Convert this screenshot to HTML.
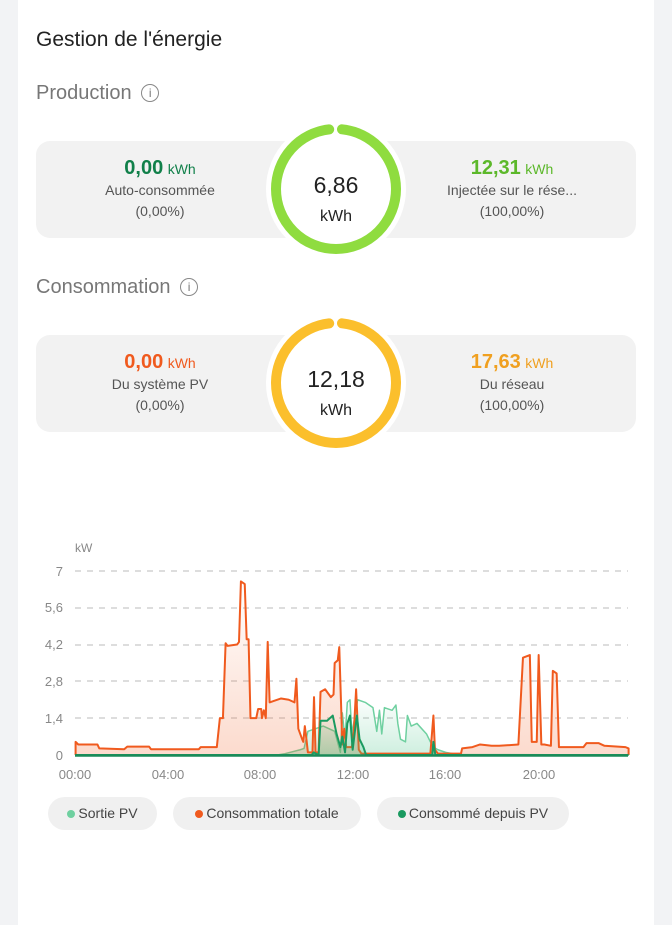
<!DOCTYPE html>
<html><head><meta charset="utf-8"><style>
body{margin:0;width:672px;height:925px;background:#f2f3f5;font-family:"Liberation Sans",sans-serif;position:relative;overflow:hidden}
.card{position:absolute;left:18px;top:0;width:636px;height:925px;background:#fff}
.a{position:absolute;white-space:nowrap}
.box{position:absolute;left:36px;width:600px;height:97px;background:#f2f2f2;border-radius:14px}
.v{position:absolute;width:240px;text-align:center}
.v b{font-size:20px}.v small{font-size:14px}
.l{font-size:14px;color:#555;line-height:21px}
.pill{position:absolute;top:797px;height:33px;line-height:33px;background:#f0f0f0;border-radius:17px;font-size:14px;color:#444;text-align:center}
.dot{display:inline-block;width:8px;height:8px;border-radius:50%;margin-right:3px;vertical-align:0}
</style></head><body>
<div class="card"></div>
<div class="a" style="left:36px;top:28px;font-size:21px;color:#222">Gestion de l'énergie</div>
<div class="a" style="left:36px;top:82px;font-size:20px;color:#777">Production <span style="display:inline-block;width:16px;height:16px;border:1.3px solid #888;border-radius:50%;font-size:12px;line-height:16px;text-align:center;vertical-align:2px;margin-left:4px">i</span></div>
<div class="a" style="left:36px;top:276px;font-size:20px;color:#777">Consommation <span style="display:inline-block;width:16px;height:16px;border:1.3px solid #888;border-radius:50%;font-size:12px;line-height:16px;text-align:center;vertical-align:2px;margin-left:4px">i</span></div>

<div class="box" style="top:141px"></div>
<div class="box" style="top:335px"></div>

<div class="v" style="left:40px;top:157px"><b style="color:#11804a">0,00</b> <small style="color:#11804a">kWh</small><div class="l">Auto-consommée<br>(0,00%)</div></div>
<div class="v" style="left:392px;top:157px"><b style="color:#5cb82a">12,31</b> <small style="color:#5cb82a">kWh</small><div class="l">Injectée sur le rése...<br>(100,00%)</div></div>
<div class="v" style="left:40px;top:351px"><b style="color:#f05a1e">0,00</b> <small style="color:#f05a1e">kWh</small><div class="l">Du système PV<br>(0,00%)</div></div>
<div class="v" style="left:392px;top:351px"><b style="color:#f0a020">17,63</b> <small style="color:#f0a020">kWh</small><div class="l">Du réseau<br>(100,00%)</div></div>

<svg class="a" style="left:0;top:0" width="672" height="925">
<circle cx="336" cy="189" r="70" fill="#fff"/>
<circle cx="336" cy="189" r="60" fill="none" stroke="#8fdc3f" stroke-width="10" stroke-linecap="round" stroke-dasharray="364 13" stroke-dashoffset="-6" transform="rotate(-90 336 189)"/>
<circle cx="336" cy="383" r="70" fill="#fff"/>
<circle cx="336" cy="383" r="60" fill="none" stroke="#fbbf2c" stroke-width="10" stroke-linecap="round" stroke-dasharray="364 13" stroke-dashoffset="-6" transform="rotate(-90 336 383)"/>
<text x="336" y="193" font-size="23" text-anchor="middle" fill="#222">6,86</text>
<text x="336" y="221" font-size="16" text-anchor="middle" fill="#222">kWh</text>
<text x="336" y="387" font-size="23" text-anchor="middle" fill="#222">12,18</text>
<text x="336" y="415" font-size="16" text-anchor="middle" fill="#222">kWh</text>

<text x="75" y="552" font-size="12" fill="#888">kW</text>
<g font-size="13" fill="#888" text-anchor="end">
<text x="63" y="576">7</text><text x="63" y="612">5,6</text><text x="63" y="649">4,2</text><text x="63" y="686">2,8</text><text x="63" y="723">1,4</text><text x="63" y="760">0</text>
</g>
<g stroke="#bbb" stroke-dasharray="6 6" stroke-width="1">
<line x1="75" x2="628" y1="571" y2="571"/><line x1="75" x2="628" y1="608" y2="608"/><line x1="75" x2="628" y1="645" y2="645"/><line x1="75" x2="628" y1="681" y2="681"/><line x1="75" x2="628" y1="718" y2="718"/>
</g>
<g font-size="13" fill="#888" text-anchor="middle">
<text x="75" y="779">00:00</text><text x="168" y="779">04:00</text><text x="260" y="779">08:00</text><text x="353" y="779">12:00</text><text x="445" y="779">16:00</text><text x="539" y="779">20:00</text>
</g>
<defs>
<linearGradient id="go" x1="0" y1="0" x2="0" y2="1"><stop offset="0" stop-color="#f05a1e" stop-opacity=".22"/><stop offset="1" stop-color="#f05a1e" stop-opacity=".01"/></linearGradient>
<linearGradient id="gg" x1="0" y1="0" x2="0" y2="1"><stop offset="0" stop-color="#3cbf80" stop-opacity=".25"/><stop offset="1" stop-color="#3cbf80" stop-opacity=".02"/></linearGradient>
</defs>
<g transform="translate(40,755) scale(0.3827,-26.3)" stroke-linejoin="round">
<polyline vector-effect="non-scaling-stroke" fill="url(#gg)" stroke="#6fd0a0" stroke-width="1.5" points="93,0 620,0 640,0.05 680,0.2 690,0.25 700,0.9 720,1.0 740,1.1 770,0.9 785,0.1 790,1.6 797,0.6 803,2.0 810,2.1 815,0.8 822,1.4 830,2.1 850,2.0 860,1.9 870,1.8 880,0.9 887,1.7 893,0.8 900,1.8 920,1.7 930,1.9 935,1.2 942,0.6 955,0.5 960,1.5 970,1.1 985,1.2 1010,0.8 1020,0.5 1028,0.3 1040,0.2 1060,0.1 1090,0.02 1538,0"/>
<polyline vector-effect="non-scaling-stroke" fill="url(#go)" stroke="#f05a1e" stroke-width="2" points="93,0 93,0.5 100,0.4 150,0.4 155,0.25 220,0.22 228,0.32 285,0.32 290,0.22 415,0.22 420,0.3 462,0.3 470,1.4 478,1.4 485,4.25 490,4.15 515,4.2 520,4.3 525,6.6 535,6.5 540,4.4 545,4.4 550,1.4 565,1.4 570,1.75 578,1.75 580,1.4 585,1.7 590,1.4 595,4.3 600,2.0 610,2.05 630,2.15 650,2.1 665,2.0 670,2.9 675,1.0 685,0.6 688,0.5 692,1.1 697,0.5 700,0.1 712,0.1 716,2.2 720,0.1 728,0.1 733,2.4 745,2.5 760,2.2 767,2.3 770,3.5 778,3.6 782,4.1 790,0.4 795,1.0 800,0.3 815,0.3 820,0.9 826,2.5 833,0.2 840,0.05 1020,0.05 1028,1.5 1032,0.2 1040,0.05 1100,0.05 1103,0.25 1130,0.3 1150,0.4 1180,0.35 1200,0.35 1250,0.4 1262,3.7 1280,3.8 1285,0.5 1298,0.5 1303,3.8 1310,0.4 1318,0.4 1335,0.35 1340,3.2 1350,3.1 1356,0.3 1420,0.3 1428,0.45 1460,0.45 1475,0.35 1530,0.3 1538,0.25 1538,0"/>
<polyline vector-effect="non-scaling-stroke" fill="url(#gg)" stroke="#1a9a60" stroke-width="2" points="93,0 710,0 715,0.1 728,0 733,1.3 750,1.3 765,1.5 775,0.8 785,0.3 790,0.7 797,0.1 803,1.2 810,1.5 817,0.2 822,0.8 828,1.5 835,0.6 845,0.3 852,0 1025,0 1028,0.5 1033,0 1538,0"/>
</g>
<line x1="75" x2="628" y1="755.5" y2="755.5" stroke="#1a8a58" stroke-width="2.5"/>
</svg>

<div class="pill" style="left:48px;width:109px"><span class="dot" style="background:#6fd0a0"></span>Sortie PV</div>
<div class="pill" style="left:173px;width:188px"><span class="dot" style="background:#f05a1e"></span>Consommation totale</div>
<div class="pill" style="left:377px;width:192px"><span class="dot" style="background:#1a9a60"></span>Consommé depuis PV</div>
</body></html>
